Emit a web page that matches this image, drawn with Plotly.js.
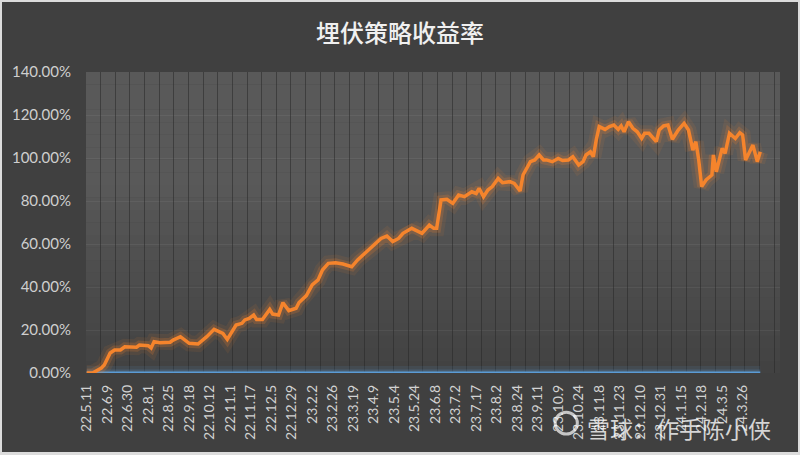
<!DOCTYPE html>
<html>
<head>
<meta charset="utf-8">
<script src="https://cdn.plot.ly/plotly-3.0.1.min.js"></script>
<style>
  html, body { margin: 0; padding: 0; background: #dcdcdc; width: 800px; height: 455px; overflow: hidden; }
  #chart { position: absolute; left: 2px; top: 2px; width: 796px; height: 450px; }
</style>
</head>
<body>
<div id="chart"></div>
<script>
// Category labels shown on the x axis (every 14th trading day)
const tickLabels = ["22.5.11","22.6.9","22.6.30","22.8.1","22.8.25","22.9.18","22.10.12","22.11.1",
  "22.11.17","22.12.5","22.12.29","23.2.2","23.2.26","23.3.19","23.4.9","23.5.4","23.5.24","23.6.8",
  "23.7.2","23.7.17","23.8.2","23.8.24","23.9.11","23.10.9","23.10.24","23.11.8","23.11.23","23.12.10",
  "23.12.31","24.1.15","24.2.18","24.3.5","24.3.26"];
const labelStep = 14;
const categoryCount = 474;

// Strategy return series (category index, return %)
const stratIdx = [0,4,10,12,16,19,23,26,34,36,42,44,46,50,57,59,64,67,70,76,78,82,87,90,93,96,99,102,106,108,
  111,114,116,120,125,127,131,134,138,143,145,150,154,158,161,165,170,175,181,185,190,193,198,201,205,209,213,216,
  222,225,229,231,234,237,239,242,246,250,254,258,263,266,268,271,274,277,281,284,289,292,296,298,303,306,309,312,
  314,318,322,325,329,332,336,339,341,344,346,348,350,354,357,360,363,365,367,370,373,376,379,381,384,389,391,394,
  397,400,404,408,411,414,416,418,420,423,427,428,430,434,436,439,443,446,448,450,455,458,460];
const stratRet = [0,0,2.3,3.7,9.3,10.7,10.7,12.2,12,13,12.7,11.6,14.6,14.1,14.3,15.3,16.9,15.3,13.8,13.5,14.6,16.9,20.3,19.2,18.4,15.6,19.2,22.3,23.1,24.7,
  25.4,27,24.9,24.9,29.6,27.4,27,32.7,29,30.1,32.8,36,41,43.3,47.9,51,51.3,50.7,49.4,52.6,55.7,57.5,60.3,62.6,63.7,61.1,62.6,65,
  67.3,66.5,65,66.5,68.8,67.3,67.3,80.5,80.8,78.9,82.8,82,84.3,83.5,85.9,82,85.1,86.7,90.5,88.5,89,88.2,84.7,92.1,98.3,99.1,101.4,99.1,
  99.1,98.3,99.8,98.8,99.1,100.6,96.7,98.3,101.4,102.9,100.6,108.4,114.6,113.3,114.6,115.3,113.3,114.9,112.2,116.9,113.8,112.2,109.1,111.5,111.5,107.6,113,114.9,
  115.3,108.7,113,116.1,113,103.7,107.6,99.1,86.7,89.8,92.1,101.4,93.6,104.5,102.2,111.5,109.1,111.8,110.7,99.1,106,98.3,102.9];

// Benchmark series (flat at zero)
const baseIdx = [0,460];
const baseRet = [0,0];

const tickVals = tickLabels.map((_, i) => i * labelStep);
const toFrac = v => v / 100;

const orange = '#f5842c';
const blue = '#5b9bd5';

const traces = [
  {x: [0], y: [0], xaxis: 'x2', mode: 'markers', marker: {opacity: 0}, hoverinfo: 'skip', showlegend: false},
  {x: baseIdx, y: baseRet.map(toFrac), mode: 'lines', line: {color: blue, width: 14}, opacity: 0.10, hoverinfo: 'skip', showlegend: false},
  {x: baseIdx, y: baseRet.map(toFrac), mode: 'lines', line: {color: blue, width: 7}, opacity: 0.22, hoverinfo: 'skip', showlegend: false},
  {x: baseIdx, y: baseRet.map(toFrac), mode: 'lines', line: {color: blue, width: 3}, showlegend: false},
  {x: stratIdx, y: stratRet.map(toFrac), mode: 'lines', line: {color: orange, width: 16}, opacity: 0.09, hoverinfo: 'skip', showlegend: false},
  {x: stratIdx, y: stratRet.map(toFrac), mode: 'lines', line: {color: orange, width: 9}, opacity: 0.20, hoverinfo: 'skip', showlegend: false},
  {x: stratIdx, y: stratRet.map(toFrac), mode: 'lines', line: {color: orange, width: 3.5}, showlegend: false}
];

// vertical gradient bands for the plot background
const shapes = [];
const bands = 24;
const topC = [89, 89, 89], botC = [66, 66, 66];
for (let i = 0; i < bands; i++) {
  const t = i / (bands - 1);
  const k = Math.min(1, Math.max(0, (t - 0.35) / 0.65));
  const c = topC.map((v, j) => Math.round(v + (botC[j] - v) * k));
  shapes.push({type: 'rect', xref: 'paper', yref: 'paper', x0: 0, x1: 1,
    y1: 1 - i / bands, y0: 1 - (i + 1) / bands,
    fillcolor: `rgb(${c[0]},${c[1]},${c[2]})`, line: {width: 0}, layer: 'below'});
}
// watermark logo ring
shapes.push({type: 'circle', xref: 'paper', yref: 'paper', x0: 0.676, x1: 0.708, y0: -0.203, y1: -0.130,
  line: {color: 'rgba(255,255,255,0.7)', width: 3}, fillcolor: 'rgba(0,0,0,0)', layer: 'above'});

const layout = {
  width: 796, height: 450,
  paper_bgcolor: '#404040',
  plot_bgcolor: '#4a4a4a',
  margin: {l: 84, r: 18, t: 70, b: 79},
  title: {text: '埋伏策略收益率', x: 0.5, xanchor: 'center', y: 0.93, yanchor: 'middle',
    font: {family: 'Noto Sans CJK SC', size: 24, color: '#f0f0f0', weight: 500}},
  font: {family: 'Lato, "Noto Sans", sans-serif', color: '#cfcfcf'},
  xaxis: {
    range: [-0.5, categoryCount - 0.5],
    tickmode: 'array', tickvals: tickVals, ticktext: tickLabels,
    tickangle: -90, tickfont: {size: 14, color: '#d2d2d2'},
    ticklabelstandoff: 8,
    showgrid: false, zeroline: false, showline: false, ticks: '', ticklen: 0,
    fixedrange: true
  },
  xaxis2: {
    overlaying: 'x', range: [-0.5, categoryCount - 0.5],
    tickmode: 'linear', tick0: -0.5, dtick: 10,
    showgrid: true, gridcolor: 'rgba(40,40,40,0.55)', gridwidth: 1,
    showticklabels: false, zeroline: false, ticks: '', fixedrange: true
  },
  yaxis: {
    range: [0, 1.4], tickmode: 'linear', tick0: 0, dtick: 0.2,
    tickformat: '.2%', tickfont: {size: 15, color: '#cfcfcf'},
    ticklabelstandoff: 14,
    showgrid: true, gridcolor: 'rgba(255,255,255,0.06)', zeroline: false,
    ticks: '', ticklen: 0, fixedrange: true
  },
  shapes: shapes,
  annotations: [
    {text: '雪球：作手陈小侠', xref: 'paper', yref: 'paper', x: 0.99, y: -0.183,
      xanchor: 'right', yanchor: 'middle', showarrow: false,
      font: {family: 'Noto Sans CJK SC', size: 23, color: 'rgba(255,255,255,0.78)'}}
  ]
};

Plotly.newPlot('chart', traces, layout, {displayModeBar: false, staticPlot: true});
</script>
</body>
</html>
